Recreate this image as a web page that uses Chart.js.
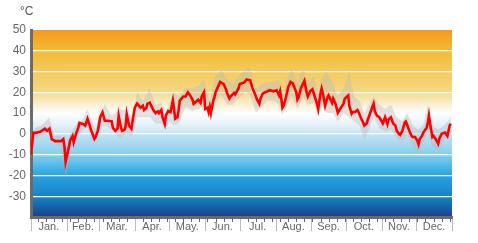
<!DOCTYPE html>
<html>
<head>
<meta charset="utf-8">
<script src="https://cdn.jsdelivr.net/npm/chart.js@4.4.0/dist/chart.umd.min.js"></script>
<style>
  html, body { margin: 0; padding: 0; background: #fff; }
  #wrap { width: 478px; height: 243px; }
</style>
</head>
<body>
<div id="wrap"><canvas id="chart1"></canvas></div>
<script>
// daily mean temperature, day of year -> degC
var days = [0,2,4,8,12,14,16,17,18,21,23,26,28,29,30,31,33,34,36,37,38,39,41,42,45,47,49,51,52,55,56,58,
  60,62,64,67,70,71,73,75,76,78,79,81,82,83,85,87,88,90,92,95,97,98,100,101,103,106,108,110,111,113,114,116,117,119,
  121,123,124,125,127,128,129,132,134,136,138,140,141,143,145,147,148,150,151,153,154,155,156,158,159,160,162,164,166,
  167,169,170,172,173,176,177,180,181,185,186,187,190,192,194,196,198,199,201,205,207,210,213,215,216,217,218,219,221,
  223,225,227,230,231,232,234,237,239,240,242,244,246,248,249,251,252,253,255,257,258,261,262,264,266,268,271,272,275,
  276,278,279,281,283,284,286,288,289,291,292,295,297,298,300,302,305,307,309,310,312,314,316,317,319,320,322,324,325,
  326,328,330,331,333,335,336,337,339,340,343,344,345,346,348,349,351,353,354,356,359,361,363,364];
var meanTemp = [-10,0.5,0.5,1,2.5,1.5,2.5,0,-2.5,-3.5,-3.5,-3.5,-2.5,-6,-13.5,-11,-6,-3,-1,-4,-2,0,3,5.3,4.8,4,7.3,4,2,-2.4,-1.5,1.5,
  8,10.3,6.3,6.3,6,3,1.5,2.5,8.7,3,1.5,2,3.5,9.5,4,2.5,6,12.6,14.6,12.6,13.5,11.5,12.5,14.5,15,11.6,10,10.8,10,11.5,8,4.8,9,11,
  10.5,16,12,7.3,8,11.5,16,18,18,20,18.5,16.5,14.5,15.5,16.5,15,18,20,12,12.5,10.5,13,10,16,17.5,20,22.5,25,24.3,
  24,21.5,19.7,17,18,19.7,19,22,24,24.8,25.5,26.2,25.8,22,19.4,16.5,14.5,17,19.5,20.5,21,20.5,21,18.5,20.5,17,12.6,13.5,17.5,
  22.5,25,24.3,20,16.5,17.5,22,25.5,20,18,20.5,21.5,18,14.5,12,19.4,21.8,19.5,13.6,17.5,18.5,15,17,14.5,10.2,12,14.5,17,18.5,
  13.5,9.7,10.5,10.5,11.5,10.5,7.8,5.4,4,5,6.8,11.5,14.5,11,8.7,8,5,8,4.7,7,8,5,4,1.5,0,-0.5,1.5,5.5,6,
  4.5,1.5,-1,-1.5,-1.5,-3.4,-5,-2.5,-1,0.5,3,5.5,8.9,5,-1.5,-1,-2.7,-4.8,-2.3,0,0.6,-1,4,4.9];

// daily range (max / min) sampled along the year
var bandDays = [0,4,9,16,20,26,30,34,40,45,49,53,56,60,64,70,77,83,88,92,97,103,108,113,116,120,124,128,134,140,
  145,150,155,160,165,170,175,180,186,190,195,200,205,210,215,218,222,226,231,236,240,245,249,252,256,262,266,271,276,280,
  285,289,293,297,302,307,312,317,322,326,331,336,340,344,348,353,358,364];
var bandHigh = [0,3,4,8,-1,-1,-8,0,5,7,12,6,2,10,14,9,12,11,8,20,16,22,14,15,8,15,20,18,22,22,
  23,26,16,28,31,26,24,28,31,32,22,24,25,25,26,18,26,32,25,32,24,28,20,26,30,24,18,22,30,18,
  16,10,14,18,14,12,14,8,6,10,4,2,4,14,4,2,4,8];
var bandLow = [-12,-2,-1,0,-5,-6,-21,-8,-1,2,3,-3,-4,3,4,2,-2,0,-1,8,8,8,5,5,2,6,4,5,13,11,
  12,13,8,15,19,14,14,17,20,19,10,13,16,16,14,9,14,18,12,18,14,15,8,14,10,10,6,10,8,6,
  4,-3,2,8,3,1,2,-2,-4,0,-6,-10,-4,0,-6,-8,-3,0];

var months = ['Jan.','Feb.','Mar.','Apr.','May.','Jun.','Jul.','Aug.','Sep.','Oct.','Nov.','Dec.'];
var monthStart = [0,31,59,90,120,151,181,212,243,273,304,334,365];
var yTicks = [-30,-20,-10,0,10,20,30,40,50];

function pts(xs, ys) {
  return xs.map(function(d, i) { return {x: d, y: ys[i]}; });
}

var bgPlugin = {
  id: 'bg',
  beforeDraw: function(chart) {
    var ctx = chart.ctx, a = chart.chartArea, y = chart.scales.y;
    var top = y.getPixelForValue(50), bot = y.getPixelForValue(-40);
    var g = ctx.createLinearGradient(0, top, 0, bot);
    var stops = [[50,'#f39a1e'],[40,'#f3ba36'],[30,'#f3cb5c'],[20,'#f5d887'],[16,'#f9e9c0'],
      [10,'#fefefe'],[5,'#e9f3f9'],[0,'#c4e3f4'],[-10,'#86cdee'],[-15,'#55bce8'],[-20,'#28a3de'],
      [-30,'#1883c7'],[-35,'#1465a9'],[-40,'#243a8a']];
    stops.forEach(function(s) { g.addColorStop((y.getPixelForValue(s[0]) - top) / (bot - top), s[1]); });
    ctx.save();
    ctx.fillStyle = g;
    ctx.fillRect(a.left, a.top, a.right - a.left, a.bottom - a.top);
    ctx.restore();
  },
  afterDraw: function(chart) {
    var ctx = chart.ctx, a = chart.chartArea, x = chart.scales.x;
    ctx.save();
    // unit label
    ctx.fillStyle = '#555';
    ctx.font = '12px "Liberation Sans", Arial, sans-serif';
    ctx.textBaseline = 'middle';
    ctx.fillText('\u00b0C', a.left - 11, 12);
    // weekly small ticks
    ctx.strokeStyle = '#666';
    ctx.lineWidth = 1;
    for (var d = 6; d < 365; d += 7) {
      var px = Math.round(x.getPixelForValue(d)) + 0.5;
      ctx.beginPath(); ctx.moveTo(px, a.bottom + 1); ctx.lineTo(px, a.bottom + 5); ctx.stroke();
    }
    // month separators
    ctx.strokeStyle = '#bbb';
    monthStart.forEach(function(m) {
      var px = Math.round(x.getPixelForValue(m)) + 0.5;
      ctx.beginPath(); ctx.moveTo(px, a.bottom + 2); ctx.lineTo(px, a.bottom + 14); ctx.stroke();
    });
    ctx.restore();
  }
};

new Chart('chart1', {
  type: 'line',
  data: {
    datasets: [
      {
        data: pts(days, meanTemp),
        borderColor: '#ff0000',
        borderWidth: 2.6,
        pointRadius: 0,
        tension: 0,
        fill: false,
        order: 0
      },
      {
        data: pts(bandDays, bandHigh),
        borderWidth: 0,
        borderColor: 'rgba(0,0,0,0)',
        backgroundColor: 'rgba(185,185,185,0.4)',
        pointRadius: 0,
        tension: 0,
        fill: '+1',
        order: 1
      },
      {
        data: pts(bandDays, bandLow),
        borderWidth: 0,
        borderColor: 'rgba(0,0,0,0)',
        pointRadius: 0,
        tension: 0,
        fill: false,
        order: 2
      }
    ]
  },
  plugins: [bgPlugin],
  options: {
    responsive: true,
    maintainAspectRatio: false,
    animation: false,
    layout: { padding: { top: 30, right: 26, left: 0, bottom: 0 } },
    plugins: {
      legend: { display: false },
      tooltip: { enabled: false },
      title: { display: false }
    },
    scales: {
      x: {
        type: 'linear',
        min: 0,
        max: 365,
        afterBuildTicks: function(s) {
          s.ticks = months.map(function(m, i) { return {value: (monthStart[i] + monthStart[i + 1]) / 2}; });
        },
        afterFit: function(s) { s.height = 26; },
        ticks: {
          autoSkip: false,
          maxRotation: 0,
          padding: 3,
          color: '#666',
          font: { family: '"Liberation Sans", Arial, sans-serif', size: 11 },
          callback: function(v, i) { return months[i]; }
        },
        grid: { display: false, drawTicks: false },
        border: { display: true, color: '#6b6b6b', width: 3 }
      },
      y: {
        min: -40,
        max: 50,
        afterBuildTicks: function(s) {
          s.ticks = yTicks.map(function(v) { return {value: v}; });
        },
        afterFit: function(s) { s.width = 31; },
        ticks: {
          padding: 5,
          color: '#666',
          font: { family: '"Liberation Sans", Arial, sans-serif', size: 12 }
        },
        grid: {
          drawTicks: false,
          color: function(c) { return c.tick && c.tick.value === 50 ? 'rgba(0,0,0,0)' : '#ffffff'; },
          lineWidth: 1.2
        },
        border: { display: true, color: '#6b6b6b', width: 3 }
      }
    }
  }
});
</script>
</body>
</html>
